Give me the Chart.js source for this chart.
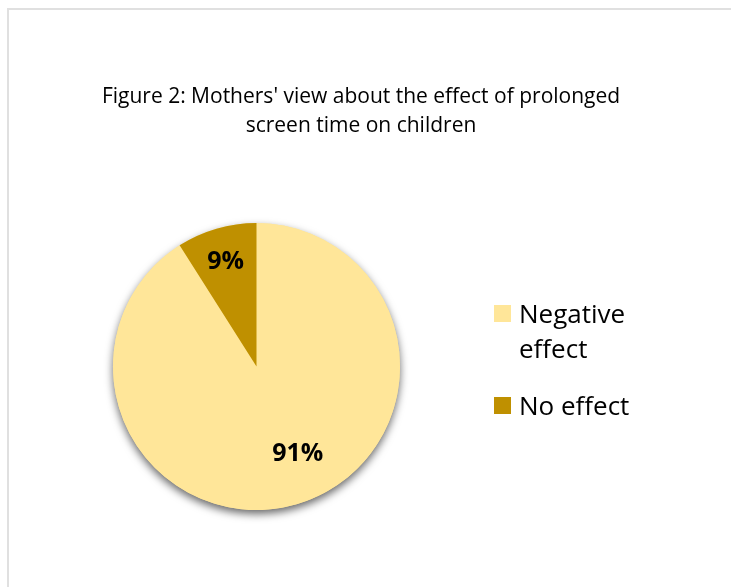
<!DOCTYPE html>
<html>
<head>
<meta charset="utf-8">
<script src="https://cdn.jsdelivr.net/npm/chart.js@4.4.1/dist/chart.umd.min.js"></script>
<style>
  html, body { margin: 0; padding: 0; background: #fff; }
  .frame {
    position: absolute; left: 7px; top: 8px; width: 740px; height: 600px;
    border-left: 2px solid #e0e0e0; border-top: 2px solid #e0e0e0;
  }
  .chartBox { position: absolute; left: 0; top: 0; width: 731px; height: 587px; }
</style>
</head>
<body>
<div class="frame"></div>
<div class="chartBox"><canvas id="pie"></canvas></div>
<script>
const titleLines = ["Figure 2: Mothers' view about the effect of prolonged", 'screen time on children'];
const categories = ['Negative effect', 'No effect'];
const legendLines = [['Negative', 'effect'], ['No effect']];
const percentages = [91, 9];
const sliceColors = ['#FFE699', '#BF9000'];

const FONT = '"Open Sans", "Noto Sans", sans-serif';

// soft drop shadow under the whole pie, drawn once so slices don't shade each other
const pieShadow = {
  id: 'pieShadow',
  beforeDatasetsDraw(chart) {
    const arc = chart.getDatasetMeta(0).data[0];
    if (!arc) return;
    const ctx = chart.ctx;
    ctx.save();
    ctx.shadowColor = 'rgba(0,0,0,0.6)';
    ctx.shadowBlur = 8;
    ctx.shadowOffsetY = 4;
    ctx.fillStyle = sliceColors[0];
    ctx.beginPath();
    ctx.arc(arc.x, arc.y, arc.outerRadius, 0, Math.PI * 2);
    ctx.fill();
    ctx.restore();
  }
};

// title, value labels and the wrapped legend on the right
const decorations = {
  id: 'decorations',
  afterDraw(chart) {
    const ctx = chart.ctx;
    ctx.save();
    ctx.fillStyle = '#000';

    ctx.font = '21px ' + FONT;
    ctx.textAlign = 'center';
    ctx.textBaseline = 'alphabetic';
    ctx.fillText(titleLines[0], 361, 103);
    ctx.fillText(titleLines[1], 361, 132);

    const meta = chart.getDatasetMeta(0);
    ctx.font = 'bold 25px ' + FONT;
    ctx.textBaseline = 'middle';
    meta.data.forEach((arc, i) => {
      const mid = (arc.startAngle + arc.endAngle) / 2;
      const r = arc.outerRadius * (i === 0 ? 0.63 : 0.77);
      const dx = i === 0 ? 16 : 0;
      ctx.fillText(percentages[i] + '%', arc.x + Math.cos(mid) * r + dx, arc.y + Math.sin(mid) * r + 1);
    });

    ctx.font = '26px ' + FONT;
    ctx.textAlign = 'left';
    ctx.textBaseline = 'alphabetic';
    const tops = [305, 397];
    legendLines.forEach((lines, i) => {
      ctx.fillStyle = sliceColors[i];
      ctx.fillRect(494, tops[i], 17, 17);
      ctx.fillStyle = '#000';
      lines.forEach((line, j) => {
        ctx.fillText(line, 519, tops[i] + 18 + j * 35);
      });
    });
    ctx.restore();
  }
};

new Chart(document.getElementById('pie'), {
  type: 'pie',
  data: {
    labels: categories,
    datasets: [{
      data: percentages,
      backgroundColor: sliceColors,
      borderWidth: 0
    }]
  },
  options: {
    responsive: true,
    maintainAspectRatio: false,
    animation: false,
    layout: { padding: { left: 113, right: 331, top: 223, bottom: 77 } },
    plugins: {
      legend: { display: false },
      title: { display: false },
      tooltip: { enabled: false }
    }
  },
  plugins: [pieShadow, decorations]
});
</script>
</body>
</html>
